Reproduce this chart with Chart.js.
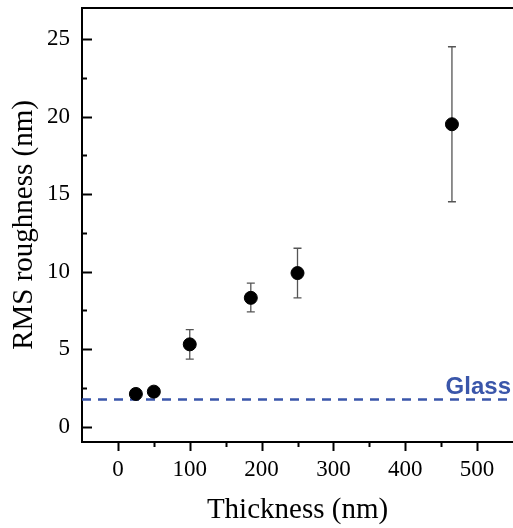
<!DOCTYPE html>
<html>
<head>
<meta charset="utf-8">
<script src="https://cdn.jsdelivr.net/npm/chart.js@4"></script>
<style>
  html, body { margin: 0; padding: 0; background: #fff; }
  #wrap { width: 513px; height: 528px; }
</style>
</head>
<body>
<div id="wrap"><canvas id="roughChart" width="513" height="528"></canvas></div>
<script>
// Film thickness vs RMS roughness
const thickness = [25, 50, 100, 185, 250, 465];
const roughness = [2.1, 2.25, 5.3, 8.3, 9.9, 19.5];
const errLow = [null, null, 4.35, 7.4, 8.3, 14.5];
const errHigh = [null, null, 6.25, 9.25, 11.5, 24.5];

// Reference level of the bare glass substrate
const glassLevel = 1.75;
const glassRange = [-50, 550];

// Tick values (majors get labels, the rest are minor marks)
const xTickValues = [0, 50, 100, 150, 200, 250, 300, 350, 400, 450, 500];
const yTickValues = [0, 2.5, 5, 7.5, 10, 12.5, 15, 17.5, 20, 22.5, 25];

const serif = "'Liberation Serif', 'Times New Roman', serif";

// Draw tick marks, error bars, top frame line and the "Glass" label
const decorPlugin = {
    id: 'decor',
    beforeDatasetsDraw(chart) {
        const ctx = chart.ctx;
        const xs = chart.scales.x, ys = chart.scales.y;
        ctx.save();
        ctx.strokeStyle = '#555';
        ctx.lineWidth = 1.3;
        thickness.forEach((t, i) => {
            if (errLow[i] == null) return;
            const px = xs.getPixelForValue(t);
            const top = ys.getPixelForValue(errHigh[i]);
            const bot = ys.getPixelForValue(errLow[i]);
            ctx.beginPath();
            ctx.moveTo(px, top); ctx.lineTo(px, bot);
            ctx.moveTo(px - 4, top); ctx.lineTo(px + 4, top);
            ctx.moveTo(px - 4, bot); ctx.lineTo(px + 4, bot);
            ctx.stroke();
        });
        ctx.restore();
    },
    afterDraw(chart) {
        const ctx = chart.ctx;
        const area = chart.chartArea;
        const xs = chart.scales.x, ys = chart.scales.y;
        ctx.save();
        ctx.strokeStyle = '#000';
        ctx.lineWidth = 2;
        // top frame
        ctx.beginPath();
        ctx.moveTo(area.left - 1, area.top);
        ctx.lineTo(area.right, area.top);
        ctx.stroke();
        // y ticks, pointing inward
        yTickValues.forEach(v => {
            const py = Math.round(ys.getPixelForValue(v)) + 0.5;
            const len = v % 5 === 0 ? 10 : 5;
            ctx.beginPath();
            ctx.moveTo(area.left, py);
            ctx.lineTo(area.left + len, py);
            ctx.stroke();
        });
        // x ticks, pointing outward
        xTickValues.forEach(v => {
            const px = Math.round(xs.getPixelForValue(v)) + 0.5;
            const len = v % 100 === 0 ? 9 : 5;
            ctx.beginPath();
            ctx.moveTo(px, area.bottom);
            ctx.lineTo(px, area.bottom + len);
            ctx.stroke();
        });
        // Glass label
        ctx.fillStyle = '#3a56aa';
        ctx.font = "bold 24px 'Liberation Sans', Arial, sans-serif";
        ctx.textAlign = 'right';
        ctx.textBaseline = 'alphabetic';
        ctx.fillText('Glass', area.right - 2, ys.getPixelForValue(glassLevel) - 5);
        ctx.restore();
    }
};

const ctx = document.getElementById('roughChart');
new Chart(ctx, {
    type: 'scatter',
    data: {
        datasets: [
            {
                label: 'RMS roughness',
                data: thickness.map((t, i) => ({ x: t, y: roughness[i] })),
                backgroundColor: '#000',
                borderColor: '#000',
                pointRadius: 6.5,
                pointHoverRadius: 6.5
            },
            {
                label: 'Glass',
                data: glassRange.map(x => ({ x: x, y: glassLevel })),
                showLine: true,
                borderColor: '#3a56aa',
                borderWidth: 2.5,
                borderDash: [9, 7],
                pointRadius: 0
            }
        ]
    },
    plugins: [decorPlugin],
    options: {
        responsive: false,
        animation: false,
        layout: { autoPadding: false, padding: { top: 8, right: 0, left: 0, bottom: 0 } },
        plugins: {
            legend: { display: false },
            tooltip: { enabled: false }
        },
        scales: {
            x: {
                type: 'linear',
                min: -50,
                max: 550,
                afterBuildTicks: s => { s.ticks = xTickValues.map(v => ({ value: v })); },
                afterFit: s => { s.height = 86; s.paddingLeft = 0; s.paddingRight = 0; },
                grid: { display: true, drawOnChartArea: false, drawTicks: false },
                border: { display: true, color: '#000', width: 2 },
                ticks: {
                    color: '#000',
                    padding: 14,
                    maxRotation: 0,
                    autoSkip: false,
                    font: { family: serif, size: 23 },
                    callback: v => (v % 100 === 0 ? String(v) : '')
                },
                title: {
                    display: true,
                    text: 'Thickness (nm)',
                    color: '#000',
                    font: { family: serif, size: 29 },
                    padding: { top: 8, bottom: 0 }
                }
            },
            y: {
                type: 'linear',
                min: -1,
                max: 27,
                afterBuildTicks: s => { s.ticks = yTickValues.map(v => ({ value: v })); },
                afterFit: s => { s.width = 82; s.paddingTop = 0; s.paddingBottom = 0; },
                grid: { display: true, drawOnChartArea: false, drawTicks: false },
                border: { display: true, color: '#000', width: 2 },
                ticks: {
                    color: '#000',
                    padding: 12,
                    autoSkip: false,
                    font: { family: serif, size: 23 },
                    callback: v => (v % 5 === 0 ? String(v) : '')
                },
                title: {
                    display: true,
                    text: 'RMS roughness (nm)',
                    color: '#000',
                    font: { family: serif, size: 29 },
                    padding: { top: 7, bottom: 0 }
                }
            }
        }
    }
});
</script>
</body>
</html>
